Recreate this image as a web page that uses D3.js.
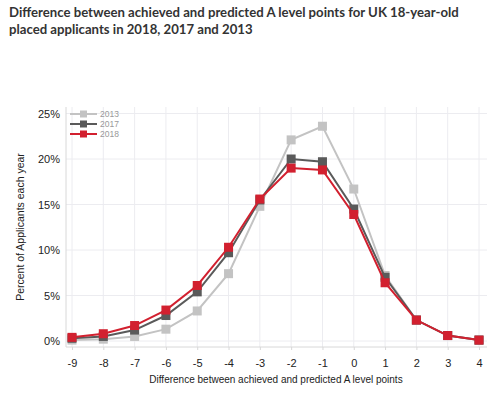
<!DOCTYPE html>
<html lang="en">
<head>
<meta charset="UTF-8">
<title>A level points</title>
<script src="https://d3js.org/d3.v7.min.js"></script>
<style>
body { margin: 0; background: #fff; }
svg { font-family: "Liberation Sans", Arial, sans-serif; }
</style>
</head>
<body>
<svg id="chart" width="500" height="393"></svg>
<script>
var diffs = [-9, -8, -7, -6, -5, -4, -3, -2, -1, 0, 1, 2, 3, 4];
var y2013 = [0.1, 0.2, 0.5, 1.3, 3.3, 7.4, 14.8, 22.1, 23.6, 16.7, 7.2, 2.3, 0.6, 0.1];
var y2017 = [0.3, 0.5, 1.2, 2.8, 5.4, 9.7, 15.5, 20.0, 19.7, 14.5, 7.0, 2.3, 0.6, 0.1];
var y2018 = [0.4, 0.8, 1.7, 3.4, 6.1, 10.3, 15.6, 19.0, 18.8, 13.9, 6.4, 2.3, 0.6, 0.1];
var yTicks = [0, 5, 10, 15, 20, 25];

var series = [
    {name: '2013', values: y2013, color: '#c3c3c3'},
    {name: '2017', values: y2017, color: '#5a5a5a'},
    {name: '2018', values: y2018, color: '#d2202f'}
];

var svg = d3.select('#chart');

// title, fitted to the width of the original (line 1 ends near x=459)
var title = svg.append('text')
    .attr('fill', '#333')
    .attr('font-family', 'Lato, "Open Sans", sans-serif')
    .attr('font-weight', 700)
    .attr('font-size', '14px');
var t1 = title.append('tspan').attr('x', 9).attr('y', 17)
    .text('Difference between achieved and predicted A level points for UK 18-year-old');
title.append('tspan').attr('x', 9).attr('y', 34)
    .text('placed applicants in 2018, 2017 and 2013');
var w = t1.node().getComputedTextLength();
if (w > 0) title.attr('font-size', (14 * 450 / w) + 'px');

var xscale = d3.scaleLinear()
    .domain([-9, 4])
    .range([72, 479]);

var yscale = d3.scaleLinear()
    .domain([0, 25])
    .range([341, 113.5]);

var plot = {left: 66, right: 487, top: 107, bottom: 347};

// gridlines
svg.append('g').selectAll('line')
    .data(yTicks)
    .enter()
    .append('line')
    .attr('x1', plot.left).attr('x2', plot.right)
    .attr('y1', function (d) { return yscale(d); })
    .attr('y2', function (d) { return yscale(d); })
    .attr('stroke', '#ececf0').attr('stroke-width', 1);

svg.append('g').selectAll('line')
    .data(diffs)
    .enter()
    .append('line')
    .attr('x1', function (d) { return xscale(d); })
    .attr('x2', function (d) { return xscale(d); })
    .attr('y1', plot.top).attr('y2', plot.bottom)
    .attr('stroke', '#ececf0').attr('stroke-width', 1);

// axis lines
svg.append('line')
    .attr('x1', plot.left).attr('x2', plot.left)
    .attr('y1', plot.top).attr('y2', plot.bottom)
    .attr('stroke', '#d8d8d8');
svg.append('line')
    .attr('x1', plot.left).attr('x2', plot.right)
    .attr('y1', plot.bottom).attr('y2', plot.bottom)
    .attr('stroke', '#d8d8d8');

// axes
var xaxis = svg.append('g')
    .attr('transform', 'translate(0,' + plot.bottom + ')')
    .call(d3.axisBottom(xscale).tickValues(diffs).tickSize(3).tickPadding(9)
        .tickFormat(function (d) { return String(d); }));
xaxis.select('.domain').remove();
xaxis.selectAll('line').attr('stroke', '#d8d8d8');
xaxis.selectAll('text').attr('fill', '#222').attr('font-size', '11px')
    .attr('font-family', '"Liberation Sans", Arial, sans-serif');

var yaxis = svg.append('g')
    .attr('transform', 'translate(' + plot.left + ',0)')
    .call(d3.axisLeft(yscale).tickValues(yTicks).tickSize(0).tickPadding(6)
        .tickFormat(function (d) { return d + '%'; }));
yaxis.select('.domain').remove();
yaxis.selectAll('text').attr('fill', '#222').attr('font-size', '11px')
    .attr('font-family', '"Liberation Sans", Arial, sans-serif');

// axis titles
svg.append('text')
    .attr('x', 276).attr('y', 383)
    .attr('text-anchor', 'middle')
    .attr('font-size', '10px').attr('fill', '#222')
    .text('Difference between achieved and predicted A level points');

svg.append('text')
    .attr('transform', 'translate(24,' + 227 + ') rotate(-90)')
    .attr('text-anchor', 'middle')
    .attr('font-size', '10.5px').attr('fill', '#222')
    .text('Percent of Applicants each year');

// lines and markers
var line = d3.line()
    .x(function (d, i) { return xscale(diffs[i]); })
    .y(function (d) { return yscale(d); });

var groups = svg.selectAll('.series')
    .data(series)
    .enter()
    .append('g')
    .attr('class', 'series');

groups.append('path')
    .attr('d', function (d) { return line(d.values); })
    .attr('fill', 'none')
    .attr('stroke', function (d) { return d.color; })
    .attr('stroke-width', 2);

groups.each(function (s) {
    d3.select(this).selectAll('rect')
        .data(s.values)
        .enter()
        .append('rect')
        .attr('x', function (d, i) { return xscale(diffs[i]) - 4.5; })
        .attr('y', function (d) { return yscale(d) - 4.5; })
        .attr('width', 9).attr('height', 9)
        .attr('fill', s.color);
});

// legend
var legend = svg.selectAll('.legend')
    .data(series)
    .enter()
    .append('g')
    .attr('class', 'legend')
    .attr('transform', function (d, i) { return 'translate(70,' + (114 + i * 10) + ')'; });

legend.append('line')
    .attr('x1', 0).attr('x2', 27)
    .attr('stroke', function (d) { return d.color; })
    .attr('stroke-width', 2);
legend.append('rect')
    .attr('x', 10).attr('y', -3.5).attr('width', 7).attr('height', 7)
    .attr('fill', function (d) { return d.color; });
legend.append('text')
    .attr('x', 30).attr('y', 3)
    .attr('font-size', '8.5px').attr('fill', '#999')
    .text(function (d) { return d.name; });
</script>
</body>
</html>
